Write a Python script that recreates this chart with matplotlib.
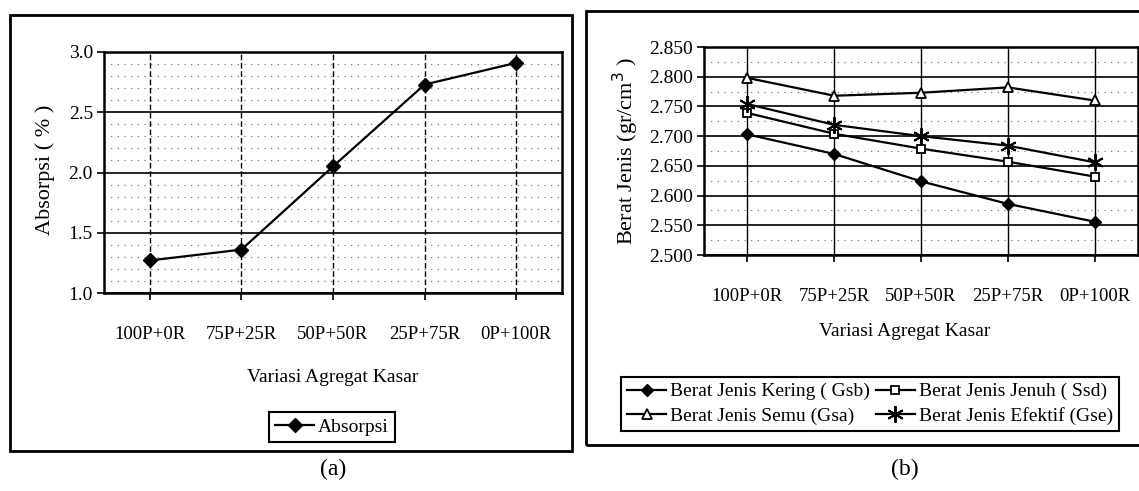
import matplotlib
matplotlib.use("Agg")
import matplotlib.pyplot as plt
from matplotlib.ticker import MultipleLocator
from matplotlib.patches import Rectangle

plt.rcParams['font.family'] = ['Liberation Serif', 'DejaVu Serif']

categories = ["100P+0R", "75P+25R", "50P+50R", "25P+75R", "0P+100R"]
absorpsi = [1.27, 1.36, 2.05, 2.73, 2.91]

gsb = [2.703, 2.670, 2.624, 2.586, 2.556]
ssd = [2.739, 2.704, 2.679, 2.657, 2.632]
gsa = [2.798, 2.768, 2.773, 2.782, 2.760]
gse = [2.754, 2.719, 2.700, 2.684, 2.656]

W, H = 1139, 491
fig = plt.figure(figsize=(W / 100, H / 100), dpi=100)
fig.patch.set_facecolor('white')


def px_axes(l, r, t, b):
    return fig.add_axes([l / W, 1 - b / H, (r - l) / W, (b - t) / H])


def px_frame(l, r, t, b, lw=2):
    fig.patches.append(Rectangle((l / W, 1 - b / H), (r - l) / W, (b - t) / H,
                                 transform=fig.transFigure, fill=False,
                                 edgecolor='black', lw=lw, zorder=0))


def style_axes(ax, vdash):
    for s in ax.spines.values():
        s.set_linewidth(1.8)
        s.set_color('black')
    ax.set_xlim(-0.5, len(categories) - 0.5)
    ax.set_xticks(range(len(categories)))
    ax.set_xticklabels(categories, fontsize=13.5)
    ax.tick_params(axis='x', which='major', length=5, width=1.2, pad=19)
    ax.tick_params(axis='y', which='major', length=5, width=1.2, pad=3, labelsize=14)
    ax.tick_params(which='minor', length=0)
    ax.grid(True, axis='y', which='major', color='black', lw=1.2, ls='-')
    ax.grid(True, axis='y', which='minor', color='0.4', lw=0.8, ls=(0, (1, 5)))
    ax.grid(True, axis='x', which='major', color='black', lw=1.0, ls=vdash)
    ax.set_axisbelow(True)


# ---------- panel (a) ----------
px_frame(10, 572, 15, 451)
axa = px_axes(104, 562, 52, 293)
x = list(range(len(categories)))
axa.plot(x, absorpsi, color='black', lw=1.6, marker='D', ms=7,
         mfc='black', mec='black', label='Absorpsi', zorder=5)
axa.set_ylim(1.0, 3.0)
axa.yaxis.set_major_locator(MultipleLocator(0.5))
axa.yaxis.set_minor_locator(MultipleLocator(0.1))
axa.yaxis.set_major_formatter(matplotlib.ticker.FormatStrFormatter('%.1f'))
style_axes(axa, (0, (4, 2)))

fig.text(45 / W, 1 - 170 / H, "Absorpsi ( % )", rotation=90, ha='center',
         va='center', fontsize=16)
fig.text(333 / W, 1 - 378 / H, "Variasi Agregat Kasar", ha='center',
         va='center', fontsize=14)
fig.legend(*axa.get_legend_handles_labels(), loc='center',
           bbox_to_anchor=(332 / W, 1 - 427 / H), fontsize=14, frameon=True,
           fancybox=False, edgecolor='black', framealpha=1, handlelength=2.0,
           borderpad=0.3, handletextpad=0.2, borderaxespad=0)
fig.legends[-1].get_frame().set_linewidth(1.5)
fig.text(333 / W, 1 - 469 / H, "(a)", ha='center', va='center', fontsize=17)

# ---------- panel (b) ----------
px_frame(586, 1160, 11, 445)
axb = px_axes(704, 1138, 47, 255)
axb.plot(x, gsb, color='black', lw=1.6, marker='D', ms=6, mfc='black',
         mec='black', label='Berat Jenis Kering ( Gsb)', zorder=5)
axb.plot(x, ssd, color='black', lw=1.6, marker='s', ms=6, mfc='white',
         mec='black', mew=1.3, label='Berat Jenis Jenuh ( Ssd)', zorder=5)
axb.plot(x, gsa, color='black', lw=1.6, marker='^', ms=7, mfc='white',
         mec='black', mew=1.3, label='Berat Jenis Semu (Gsa)', zorder=5)
axb.plot(x, gse, color='black', lw=1.6, marker=(6, 2, 0), ms=12,
         mec='black', mew=1.4, label='Berat Jenis Efektif (Gse)', zorder=5)
axb.set_ylim(2.5, 2.85)
axb.yaxis.set_major_locator(MultipleLocator(0.05))
axb.yaxis.set_minor_locator(MultipleLocator(0.025))
axb.yaxis.set_major_formatter(matplotlib.ticker.FormatStrFormatter('%.3f'))
style_axes(axb, '-')

fig.text(626 / W, 1 - 151 / H, "Berat Jenis (gr/cm$^{3}$ )", rotation=90,
         ha='center', va='center', fontsize=16)
fig.text(905 / W, 1 - 331 / H, "Variasi Agregat Kasar", ha='center',
         va='center', fontsize=14)
hb, lb = axb.get_legend_handles_labels()
order = [0, 2, 1, 3]
fig.legend([hb[i] for i in order], [lb[i] for i in order], loc='center',
           bbox_to_anchor=(870 / W, 1 - 404 / H), ncol=2, fontsize=14,
           frameon=True, fancybox=False, edgecolor='black', framealpha=1,
           handlelength=2.0, borderpad=0.3, handletextpad=0.2,
           columnspacing=0.3, labelspacing=0.35, borderaxespad=0)
fig.legends[-1].get_frame().set_linewidth(1.5)
fig.text(905 / W, 1 - 469 / H, "(b)", ha='center', va='center', fontsize=17)

fig.savefig("out.png", dpi=100, facecolor='white')
